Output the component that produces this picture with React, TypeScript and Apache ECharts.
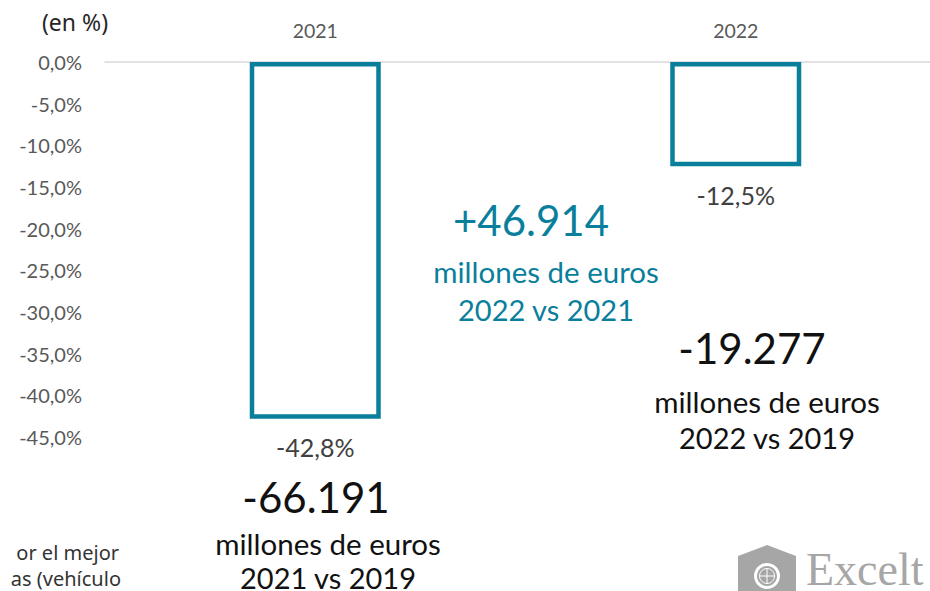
import React, { useEffect, useRef } from "react";
import * as echarts from "echarts";

const categories = ["2021", "2022"];
const values = [-42.8, -12.5];
const yTicks = [0, -5, -10, -15, -20, -25, -30, -35, -40, -45];

const TEAL = "#0A7F9C";
const FONT = "Lato, 'Noto Sans', sans-serif";

const fmtPct = (v: number) => v.toFixed(1).replace(".", ",") + "%";

export default function App() {
  const ref = useRef<HTMLDivElement>(null);
  useEffect(() => {
    document.body.style.margin = "0";
    const chart = echarts.init(ref.current!, null, { renderer: "svg" });
    const bigText = (x: number, y: number, text: string, color: string, size: number) => ({
      type: "text",
      x,
      y,
      style: { text, fill: color, font: `${size}px ${FONT}`, textAlign: "center", textVerticalAlign: "middle" },
    });
    chart.setOption({
      animation: false,
      backgroundColor: "#ffffff",
      textStyle: { fontFamily: FONT },
      grid: { left: 105, top: 62, width: 841, bottom: 154, containLabel: false, outerBoundsMode: "none" },
      xAxis: {
        type: "category",
        data: categories,
        position: "top",
        axisLine: { show: true, lineStyle: { color: "#d9d9d9", width: 1.5 } },
        axisTick: { show: false },
        axisLabel: { color: "#595959", fontSize: 19.5, margin: 22, fontFamily: FONT },
      },
      yAxis: {
        type: "value",
        min: -45,
        max: 0,
        interval: 5,
        axisLine: { show: false },
        axisTick: { show: false },
        splitLine: { show: false },
        axisLabel: {
          color: "#595959",
          fontSize: 20,
          margin: 23,
          fontFamily: FONT,
          formatter: (v: number) => (yTicks.includes(v) ? fmtPct(v) : ""),
        },
      },
      series: [
        {
          type: "bar",
          data: values,
          barWidth: 131,
          itemStyle: { color: "#ffffff", borderColor: TEAL, borderWidth: 4.5 },
          label: {
            show: true,
            position: "bottom",
            distance: 16,
            color: "#404040",
            fontSize: 25,
            fontFamily: FONT,
            formatter: (p: any) => fmtPct(p.value),
          },
        },
      ],
      graphic: [
        { type: "text", x: 75, y: 22, style: { text: "(en %)", fill: "#262626", font: `23px 'Noto Sans', sans-serif`, textAlign: "center", textVerticalAlign: "middle" } },
        bigText(531, 220, "+46.914", TEAL, 42),
        bigText(546, 271, "millones de euros", TEAL, 29.5),
        bigText(546, 309, "2022 vs 2021", TEAL, 29),
        bigText(752, 348, "-19.277", "#111111", 42),
        bigText(767, 401, "millones de euros", "#111111", 29.5),
        bigText(767, 437, "2022 vs 2019", "#111111", 29),
        bigText(316, 497, "-66.191", "#111111", 42),
        bigText(328, 543, "millones de euros", "#111111", 29.5),
        bigText(328, 577, "2021 vs 2019", "#111111", 29),
        { type: "text", x: 119, y: 552, style: { text: "or el mejor", fill: "#333333", font: `20px 'Noto Sans', sans-serif`, textAlign: "right", textVerticalAlign: "middle" } },
        { type: "text", x: 121, y: 578, style: { text: "as (vehículo", fill: "#333333", font: `20px 'Noto Sans', sans-serif`, textAlign: "right", textVerticalAlign: "middle" } },
        {
          type: "polygon",
          shape: { points: [[738, 556], [767, 545], [796, 556], [796, 600], [738, 600]] },
          style: { fill: "#a6a6a6" },
        },
        { type: "circle", shape: { cx: 767, cy: 576, r: 13 }, style: { fill: "#ffffff" } },
        { type: "circle", shape: { cx: 767, cy: 576, r: 10 }, style: { fill: "#a6a6a6" } },
        { type: "circle", shape: { cx: 767, cy: 576, r: 7.5 }, style: { fill: "none", stroke: "#ffffff", lineWidth: 1 } },
        { type: "line", shape: { x1: 767, y1: 568.5, x2: 767, y2: 583.5 }, style: { stroke: "#ffffff", lineWidth: 1 } },
        { type: "line", shape: { x1: 759.5, y1: 576, x2: 774.5, y2: 576 }, style: { stroke: "#ffffff", lineWidth: 1 } },
        { type: "text", x: 806, y: 592, style: { text: "Excelt", fill: "#a6a6a6", font: `46px 'Liberation Serif', serif`, textAlign: "left", textVerticalAlign: "bottom" } },
      ],
    });
    return () => chart.dispose();
  }, []);
  return <div ref={ref} style={{ width: 930, height: 591 }} />;
}
